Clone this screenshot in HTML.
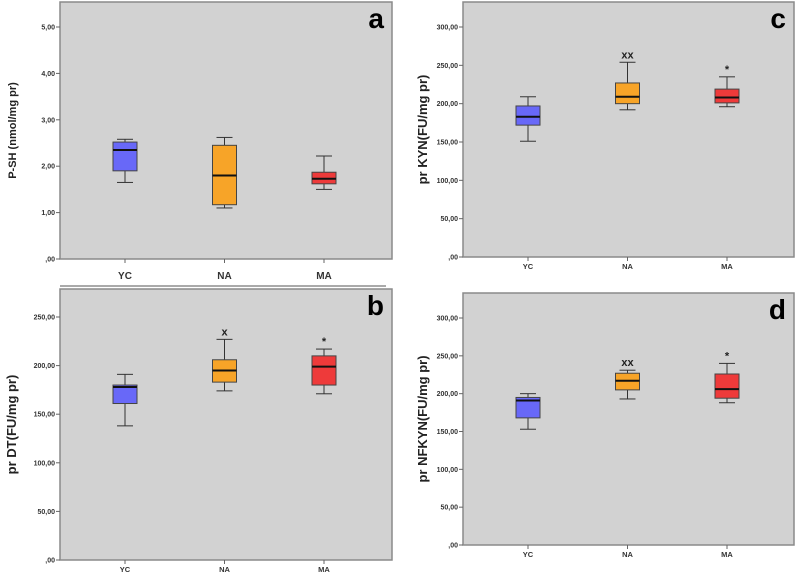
<!DOCTYPE html>
<html><head><meta charset="utf-8"><style>
html,body{margin:0;padding:0;background:#fff;}
svg{display:block;font-family:"Liberation Sans",sans-serif;}
</style></head><body>
<svg id="chart" width="796" height="575" viewBox="0 0 796 575" xmlns="http://www.w3.org/2000/svg"></svg>
<script>
const categories = ["YC","NA","MA"];
const colors = ["#6868f8","#f7a428","#ee3a3a"];
// [min, q1, median, q3, max]
const statsA = [[1.65,1.90,2.35,2.52,2.58],[1.10,1.17,1.80,2.45,2.62],[1.50,1.62,1.73,1.87,2.22]];
const statsB = [[138,161,178,180,191],[174,183,195,206,227],[171,180,199,210,217]];
const statsC = [[151,172,183,197,209],[192,200,209,227,254],[196,201,208,219,235]];
const statsD = [[153,168,191,195,200],[193,205,217,227,231],[188,194,206,226,240]];
const marksA = ["","",""];
const marksB = ["","x","*"];
const marksC = ["","xx","*"];
const marksD = ["","xx","*"];
const ticksA = [0,1,2,3,4,5];
const ticksB = [0,50,100,150,200,250];
const ticksCD = [0,50,100,150,200,250,300];

const NS="http://www.w3.org/2000/svg";
const svg=document.getElementById('chart');
function mk(tag,attrs,parent){const e=document.createElementNS(NS,tag);for(const k in attrs)e.setAttribute(k,attrs[k]);(parent||svg).appendChild(e);return e;}
function fmt(v){if(v===0)return ",00";return v.toFixed(2).replace('.',',');}

function panel(cfg){
  const g=mk('g',{});
  
  
  const {x0,x1,top,y0Pix,tickTop,tickTopVal}=cfg;
  const scale=(y0Pix-tickTop)/tickTopVal;
  const y=v=>y0Pix-v*scale;
  const frame=mk('rect',{x:x0,y:top,width:x1-x0,height:y0Pix-top,fill:'#d2d2d2',stroke:'#8a8a8a','stroke-width':1.5},g);
  
  
  cfg.ticks.forEach(t=>{
    mk('line',{x1:x0-4,x2:x0,y1:y(t),y2:y(t),stroke:'#666'},g);
    const tx=mk('text',{x:x0-5,y:y(t)+2.5,'font-size':7,'font-weight':'bold','text-anchor':'end',fill:'#333'},g);
    tx.textContent=fmt(t);
    
    
  });
  const yl=mk('text',{x:0,y:0,'font-size':cfg.ylSize,'font-weight':'bold','text-anchor':'middle',fill:'#222',transform:`translate(${cfg.ylx},${(top+y0Pix)/2}) rotate(-90)`},g);
  yl.textContent=cfg.ylabel;
  
  
  const lt=mk('text',{x:x1-8,y:top+26,'font-size':28,'font-weight':'bold','text-anchor':'end',fill:'#000'},g);
  lt.textContent=cfg.letter;
  
  
  const step=99.5, first=x0+65;
  categories.forEach((c,i)=>{
    const cx=first+step*i;
    mk('line',{x1:cx,x2:cx,y1:y0Pix,y2:y0Pix+4,stroke:'#666'},g);
    const cl=mk('text',{x:cx,y:y0Pix+cfg.xlOff,'font-size':cfg.xlSize,'font-weight':'bold','text-anchor':'middle',fill:'#333'},g);
    cl.textContent=c;
    
    
    const s=cfg.stats[i], bw=24, cw=8;
    const bg=mk('g',{},g);
    
    
    mk('line',{x1:cx,x2:cx,y1:y(s[0]),y2:y(s[1]),stroke:'#333'},bg);
    mk('line',{x1:cx,x2:cx,y1:y(s[3]),y2:y(s[4]),stroke:'#333'},bg);
    mk('line',{x1:cx-cw,x2:cx+cw,y1:y(s[0]),y2:y(s[0]),stroke:'#333'},bg);
    mk('line',{x1:cx-cw,x2:cx+cw,y1:y(s[4]),y2:y(s[4]),stroke:'#333'},bg);
    mk('rect',{x:cx-bw/2,y:y(s[3]),width:bw,height:y(s[1])-y(s[3]),fill:colors[i],stroke:'#444'},bg);
    mk('line',{x1:cx-bw/2,x2:cx+bw/2,y1:y(s[2]),y2:y(s[2]),stroke:'#111','stroke-width':2},bg);
    if(cfg.marks[i]){
      const m=mk('text',{x:cx,y:y(s[4])-4,'font-size':11,'font-weight':'bold','text-anchor':'middle',fill:'#222'},g);
      m.textContent=cfg.marks[i];
      
      
    }
  });
}
panel({letter:'a',x0:60,x1:392,top:2,y0Pix:259,tickTop:27,tickTopVal:5,ticks:ticksA,stats:statsA,marks:marksA,ylabel:'P-SH (nmol/mg pr)',ylx:16,ylSize:11,xlOff:20,xlSize:10});
mk('line',{x1:60,x2:386,y1:286,y2:286,stroke:'#555'});
panel({letter:'c',x0:463,x1:794,top:2,y0Pix:257,tickTop:27,tickTopVal:300,ticks:ticksCD,stats:statsC,marks:marksC,ylabel:'pr KYN(FU/mg pr)',ylx:427,ylSize:13,xlOff:12,xlSize:7.5});
panel({letter:'b',x0:60,x1:392,top:289,y0Pix:560,tickTop:317,tickTopVal:250,ticks:ticksB,stats:statsB,marks:marksB,ylabel:'pr DT(FU/mg pr)',ylx:16,ylSize:13,xlOff:12,xlSize:7.5});
panel({letter:'d',x0:463,x1:794,top:293,y0Pix:545,tickTop:318,tickTopVal:300,ticks:ticksCD,stats:statsD,marks:marksD,ylabel:'pr NFKYN(FU/mg pr)',ylx:427,ylSize:13,xlOff:12,xlSize:7.5});
</script>
</body></html>
